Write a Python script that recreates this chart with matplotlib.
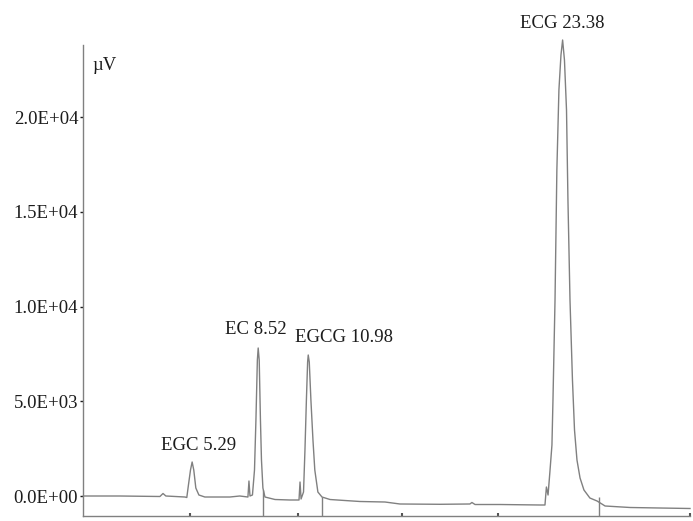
import matplotlib
matplotlib.use("Agg")
import matplotlib.pyplot as plt

# Chromatogram trace: retention time (min) and detector signal (µV)
time_min = [0.00, 1.78, 3.73, 3.88, 4.02, 4.95, 5.04, 5.12, 5.22, 5.30,
            5.38, 5.48, 5.63, 5.92, 7.14, 7.62, 8.02, 8.07, 8.12, 8.24,
            8.34, 8.41, 8.48, 8.52, 8.57, 8.63, 8.68, 8.75, 8.85, 9.34,
            10.07, 10.51, 10.56, 10.61, 10.73, 10.80, 10.87, 10.93, 10.96, 11.01,
            11.09, 11.19, 11.28, 11.43, 11.63, 12.02, 12.75, 13.48, 14.70, 15.43,
            17.38, 18.84, 18.94, 19.09, 20.30, 22.26, 22.50, 22.57, 22.65, 22.74,
            22.84, 22.89, 22.99, 23.08, 23.18, 23.28, 23.36, 23.45, 23.55, 23.62,
            23.72, 23.84, 23.94, 24.06, 24.21, 24.40, 24.69, 25.04, 25.43, 26.65,
            28.11, 29.57]
signal_uv = [0, 0, -26, 132, 0, -53, -79, 581, 1373, 1796,
             1373, 422, 53, -53, -53, 0, -53, 792, 0, 53,
             1373, 4014, 7182, 7816, 7182, 4014, 1901, 422, -53, -185,
             -211, -211, 739, -158, 211, 2429, 5070, 7077, 7446, 7077,
             5070, 2957, 1373, 211, -53, -185, -238, -290, -317, -422,
             -438, -422, -343, -449, -449, -475, -475, 475, 53, 1267,
             2693, 5070, 10351, 17216, 21441, 23289, 24081, 23025, 20385, 15632,
             10351, 6126, 3485, 1901, 951, 317, -106, -264, -528, -607,
             -634, -660]

# Peak annotations
peak_names = ["EGC", "EC", "EGCG", "ECG"]
peak_times = [5.29, 8.52, 10.98, 23.38]
label_x = [5.63, 8.41, 12.70, 23.33]
label_y = [2693, 8819, 8344, 24926]

# Integration marks
drop_times = [8.75, 11.63, 25.13]
drop_tops = [317, -53, -53]
event_times = [5.19, 10.46, 15.53, 20.21, 29.57]

y_ticks = [0, 5000, 10000, 15000, 20000]
y_tick_labels = ["0.0E+00", "5.0E+03", "1.0E+04", "1.5E+04", "2.0E+04"]

plt.rcParams["font.family"] = ["Liberation Serif", "DejaVu Serif"]
text_color = "#1c1c1c"
line_color = "#808080"

fig = plt.figure(figsize=(6.93, 5.21), dpi=100)
ax = fig.add_axes([83 / 693, 1 - 516 / 521, (690 - 83) / 693, (516 - 45) / 521])

ax.plot(time_min, signal_uv, color=line_color, lw=1.0, clip_on=False)

y_bottom = -1056
ax.vlines(drop_times, y_bottom, drop_tops, color=line_color, lw=1.0)

ax.set_xlim(-0.02, 29.57)
ax.set_ylim(y_bottom, 23817)

for s in ["top", "right"]:
    ax.spines[s].set_visible(False)
for s in ["left", "bottom"]:
    ax.spines[s].set_color(line_color)
    ax.spines[s].set_linewidth(1.0)

ax.set_yticks(y_ticks)
ax.set_yticklabels(y_tick_labels, fontsize=13.5, color=text_color)
ax.tick_params(axis="y", direction="out", length=2.5, width=1.0,
               color=text_color, pad=1)

ax.set_xticks(event_times)
ax.set_xticklabels([])
ax.tick_params(axis="x", direction="in", length=2.5, width=1.5,
               color="#555555")

for name, t, lx, ly in zip(peak_names, peak_times, label_x, label_y):
    ax.text(lx, ly, f"{name} {t:.2f}", ha="center", va="center",
            fontsize=13.5, color=text_color)

fig.text(92 / 693, 1 - 65 / 521, "µV", ha="left", va="center",
         fontsize=13.5, color=text_color)

fig.savefig("out.png", dpi=100)
